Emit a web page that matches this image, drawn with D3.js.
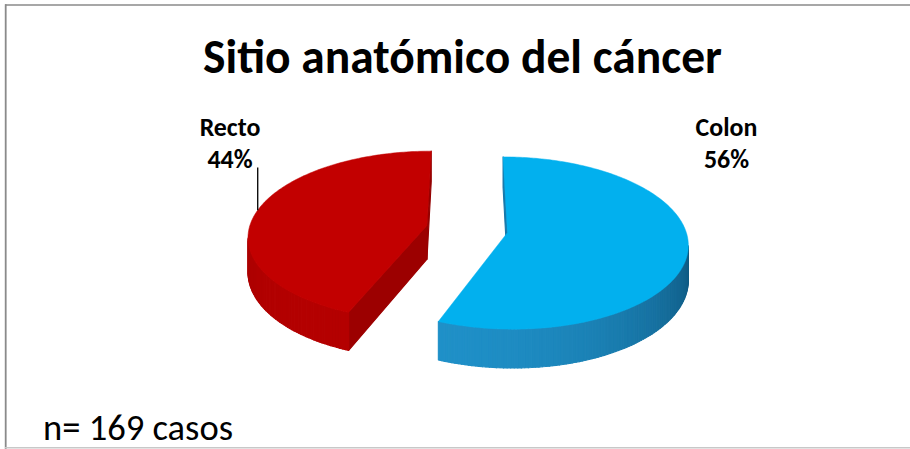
<!DOCTYPE html>
<html>
<head>
<meta charset="utf-8">
<script src="https://cdn.jsdelivr.net/npm/d3@7/dist/d3.min.js"></script>
<style>
  html, body { margin: 0; padding: 0; background: #fff; overflow: hidden; }
  svg { display: block; }
</style>
</head>
<body>
<svg id="chart" width="910" height="449"></svg>
<script>
// ---- data ----
const categories = ["Colon", "Recto"];
const shares = [56, 44];            // percent of cases
const totalCases = 169;
const chartTitle = "Sitio anatómico del cáncer";

// ---- styles ----
const topColors  = ["#02b0ee", "#c20000"];
const wallLight  = ["#1f90c8", "#b40000"];
const wallDark   = ["#063a5a", "#880000"];
const FONT = "Carlito, Calibri, Lato, 'Open Sans', sans-serif";

// ---- 3D pie geometry ----
const W = 910, H = 449;
const CX = 467, CY = 229;      // projected pie centre
const RX = 178, RY = 84;       // radii of the tilted disc
const DEPTH = 34;              // thickness of the disc
const PERSP = 0.12;            // perspective strength (front larger than back)
const EXPLODE = 0.23;          // slice separation, in radius units
const STEP = Math.PI / 180;

const svg = d3.select("#chart");
svg.append("rect").attr("width", W).attr("height", H).attr("fill", "#fff");

// frame of the chart area
svg.append("line").attr("x1", 5).attr("x2", W).attr("y1", 5).attr("y2", 5)
  .attr("stroke", "#8a8a8a").attr("stroke-width", 1.6);
svg.append("line").attr("x1", 5.7).attr("x2", 5.7).attr("y1", 4.2).attr("y2", H)
  .attr("stroke", "#8a8a8a").attr("stroke-width", 1.8);
svg.append("line").attr("x1", 5).attr("x2", W).attr("y1", 447.8).attr("y2", 447.8)
  .attr("stroke", "#c8c8c8").attr("stroke-width", 1.4);

// perspective projection of a point (x right, z toward viewer, h up)
function project(x, z, h) {
  const k = 1 / (1 - PERSP * z);
  return [CX + RX * x * k, CY + (RY * z - DEPTH * h) * k];
}
// a wall faces the eye when its normal points toward the camera
function facesCamera(px, pz, nx, nz) {
  return nx * (-px) + nz * (1 / PERSP - pz) > 0;
}

const pie = d3.pie().sort(null).value(d => d);
const arcs = pie(shares);

// light comes from the front-left
const L = (() => { const v = [-0.45, 0.9], n = Math.hypot(v[0], v[1]); return [v[0] / n, v[1] / n]; })();
function shade(i, nx, nz) {
  const t = Math.max(0, Math.min(1, ((nx * L[0] + nz * L[1]) + 1) / 2));
  return d3.interpolateRgb(wallDark[i], wallLight[i])(t);
}

const pieG = svg.append("g");
const line = d3.line();

arcs.forEach((a, i) => {
  const mid = (a.startAngle + a.endAngle) / 2;
  const ex = EXPLODE * Math.sin(mid), ez = -EXPLODE * Math.cos(mid);
  const rim = (t, h) => project(ex + Math.sin(t), ez - Math.cos(t), h);
  const ctr = h => project(ex, ez, h);

  const faces = [];
  // outer curved wall, in small pieces
  const n = Math.max(2, Math.ceil((a.endAngle - a.startAngle) / STEP));
  for (let j = 0; j < n; j++) {
    const t0 = a.startAngle + (a.endAngle - a.startAngle) * j / n;
    const t1 = a.startAngle + (a.endAngle - a.startAngle) * (j + 1) / n;
    const tm = (t0 + t1) / 2;
    const nx = Math.sin(tm), nz = -Math.cos(tm);
    if (!facesCamera(ex + nx, ez + nz, nx, nz)) continue;
    faces.push({
      depth: ez + nz,
      pts: [rim(t0, 0), rim(t1, 0), rim(t1, -1), rim(t0, -1)],
      fill: shade(i, nx, nz)
    });
  }
  // the two radial cut faces
  [[a.startAngle, -Math.PI / 2], [a.endAngle, Math.PI / 2]].forEach(([t, off]) => {
    const nt = t + off;
    const nx = Math.sin(nt), nz = -Math.cos(nt);
    const px = ex + 0.5 * Math.sin(t), pz = ez - 0.5 * Math.cos(t);
    if (!facesCamera(px, pz, nx, nz)) return;
    faces.push({
      depth: pz,
      pts: [ctr(0), rim(t, 0), rim(t, -1), ctr(-1)],
      fill: shade(i, nx, nz)
    });
  });
  faces.sort((p, q) => p.depth - q.depth);

  const g = pieG.append("g").attr("class", "slice " + categories[i]);
  g.selectAll("path.wall").data(faces).join("path")
    .attr("class", "wall")
    .attr("d", f => line(f.pts) + "Z")
    .attr("fill", f => f.fill)
    .attr("stroke", f => f.fill)
    .attr("stroke-width", 1.1)
    .attr("stroke-linejoin", "round");

  // top face
  const topPts = [ctr(0)];
  for (let j = 0; j <= n; j++) {
    topPts.push(rim(a.startAngle + (a.endAngle - a.startAngle) * j / n, 0));
  }
  g.append("path")
    .attr("class", "top")
    .attr("d", line(topPts) + "Z")
    .attr("fill", topColors[i])
    .attr("stroke", topColors[i])
    .attr("stroke-width", 0.5)
    .attr("stroke-linejoin", "round");

  a.labelAnchor = rim(mid, 0);
});

// ---- text ----
function fitGroup(sel, targets, base) {
  let measured = 0, wanted = 0;
  sel.each(function (d, k) { measured += this.getComputedTextLength(); wanted += targets[k]; });
  sel.attr("font-size", base * wanted / measured);
}

const title = svg.append("text")
  .attr("x", 462.5).attr("y", 73)
  .attr("text-anchor", "middle")
  .attr("font-family", FONT).attr("font-weight", "bold")
  .attr("font-size", 40).attr("fill", "#000")
  .text(chartTitle);
fitGroup(title, [519], 40);

// slice labels: name on the first line, share on the second
const labelPos = [[726.5, 136, 168], [230, 136, 168]];
const labelTexts = [];
const labelTargets = [];
const nameWidths = [63, 62], pctWidths = [43, 45];
arcs.forEach((a, i) => {
  labelTexts.push({ x: labelPos[i][0], y: labelPos[i][1], t: categories[i] });
  labelTargets.push(nameWidths[i]);
  labelTexts.push({ x: labelPos[i][0], y: labelPos[i][2], t: shares[i] + "%" });
  labelTargets.push(pctWidths[i]);
});
const labels = svg.selectAll("text.lbl").data(labelTexts).join("text")
  .attr("class", "lbl")
  .attr("x", d => d.x).attr("y", d => d.y)
  .attr("text-anchor", "middle")
  .attr("font-family", FONT).attr("font-weight", "bold")
  .attr("font-size", 22).attr("fill", "#000")
  .text(d => d.t);
fitGroup(labels, labelTargets, 22);

// leader line from the Recto label to its slice
const recto = arcs[1];
svg.append("line")
  .attr("x1", 257.7).attr("y1", 167.5)
  .attr("x2", recto.labelAnchor[0]).attr("y2", recto.labelAnchor[1])
  .attr("stroke", "#000").attr("stroke-width", 1.3);

const note = svg.append("text")
  .attr("x", 43).attr("y", 440)
  .attr("font-family", FONT)
  .attr("font-size", 28).attr("fill", "#000")
  .text("n= " + totalCases + " casos");
fitGroup(note, [190], 28);
</script>
</body>
</html>
